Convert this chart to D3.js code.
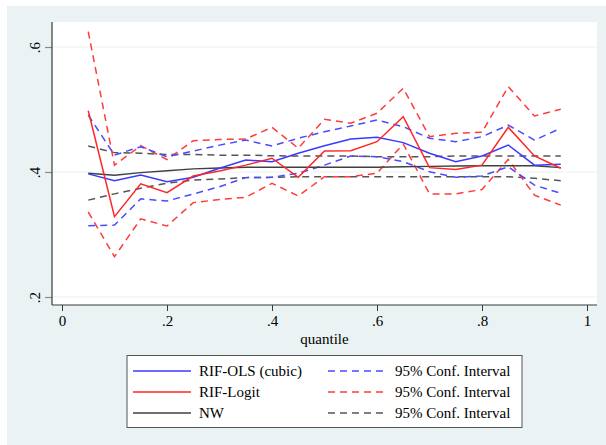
<!DOCTYPE html>
<html><head><meta charset="utf-8">
<script src="https://cdn.jsdelivr.net/npm/d3@7"></script>
<style>
html,body{margin:0;padding:0;background:#fff;}
text{font-family:"Liberation Serif","Times New Roman",serif;}
</style></head>
<body>
<svg id="chart" width="606" height="445"></svg>
<script>
const quantiles = [0.05,0.10,0.15,0.20,0.25,0.30,0.35,0.40,0.45,0.50,0.55,0.60,0.65,0.70,0.75,0.80,0.85,0.90,0.95];
const olsMid   = [0.397,0.386,0.395,0.3845,0.3915,0.406,0.419,0.4165,0.430,0.442,0.4528,0.4555,0.447,0.430,0.4165,0.4256,0.4432,0.411,0.4123];
const olsHi    = [0.491,0.427,0.4405,0.4245,0.4336,0.443,0.451,0.4416,0.454,0.4645,0.4736,0.4832,0.4725,0.454,0.4485,0.4565,0.475,0.451,0.470];
const olsLo    = [0.314,0.315,0.357,0.3536,0.3648,0.3765,0.391,0.3915,0.398,0.411,0.4256,0.4245,0.4165,0.4005,0.3915,0.3936,0.4085,0.379,0.366];
const logitMid = [0.498,0.3285,0.381,0.367,0.3936,0.4016,0.411,0.422,0.3915,0.4336,0.434,0.4485,0.4885,0.407,0.404,0.411,0.4715,0.4256,0.406];
const logitHi  = [0.6245,0.411,0.442,0.420,0.450,0.452,0.4528,0.4715,0.438,0.4843,0.478,0.494,0.534,0.4565,0.462,0.4635,0.5365,0.4896,0.5003];
const logitLo  = [0.336,0.2645,0.325,0.3136,0.351,0.356,0.3595,0.382,0.3616,0.3925,0.3925,0.398,0.4448,0.365,0.365,0.372,0.420,0.363,0.347];
const nwMid    = [0.398,0.395,0.399,0.402,0.405,0.4064,0.4075,0.4075,0.4075,0.4075,0.4075,0.4075,0.4085,0.409,0.4096,0.410,0.410,0.410,0.407];
const nwHi     = [0.4416,0.431,0.430,0.428,0.428,0.427,0.427,0.426,0.4256,0.4256,0.4256,0.4245,0.4245,0.4245,0.4256,0.4256,0.4256,0.4256,0.4256];
const nwLo     = [0.355,0.365,0.374,0.382,0.387,0.3888,0.391,0.3915,0.3925,0.3925,0.3925,0.3925,0.3925,0.3925,0.3925,0.3925,0.3925,0.390,0.386];
const xTicks = [0,0.2,0.4,0.6,0.8,1];
const xTickLabels = ["0",".2",".4",".6",".8","1"];
const yTicks = [0.2,0.4,0.6];
const yTickLabels = [".2",".4",".6"];
const xTitle = "quantile";
const legendLabels = ["RIF-OLS (cubic)","95% Conf. Interval","RIF-Logit","95% Conf. Interval","NW","95% Conf. Interval"];

const BLUE="#3a3aff", RED="#ff2626", BLACK="#404040";
const BLUE_D="#4a4aff", RED_D="#ff3c3c", BLACK_D="#555555";

const svg = d3.select("#chart");
svg.append("rect").attr("x",7).attr("y",6).attr("width",599).attr("height",439).attr("fill","#eaf2f3");
const plotL=52, plotR=597, plotT=22, plotB=305;
svg.append("rect").attr("x",plotL).attr("y",plotT).attr("width",plotR-plotL).attr("height",plotB-plotT).attr("fill","#fff");

const x = d3.scaleLinear().domain([0,1]).range([62,587]);
const y = d3.scaleLinear().domain([0.2,0.6]).range([297,47]);

svg.append("g").selectAll("line").data(yTicks).join("line")
  .attr("x1",plotL).attr("x2",plotR).attr("y1",d=>y(d)).attr("y2",d=>y(d))
  .attr("stroke","#eaf2f3").attr("stroke-width",1.2);

const yAxis = d3.axisLeft(y).tickValues(yTicks).tickSize(7).tickFormat((d,i)=>yTickLabels[i]);
const gy = svg.append("g").attr("transform",`translate(${plotL},0)`).call(yAxis);
gy.select(".domain").remove();
gy.selectAll(".tick line").attr("stroke","#8a8a8a").attr("stroke-width",1.2);
gy.selectAll(".tick text").attr("x",null).attr("dy",null)
  .attr("text-anchor","middle").attr("font-size",15).attr("fill","#000")
  .attr("transform","translate(-12,0) rotate(-90)");
svg.append("line").attr("x1",plotL).attr("x2",plotL).attr("y1",plotT).attr("y2",plotB).attr("stroke","#3a3a3a").attr("stroke-width",1.2);

const xAxis = d3.axisBottom(x).tickValues(xTicks).tickSize(6).tickFormat((d,i)=>xTickLabels[i]);
const gx = svg.append("g").attr("transform",`translate(0,${plotB})`).call(xAxis);
gx.select(".domain").remove();
gx.selectAll(".tick line").attr("stroke","#3a3a3a").attr("stroke-width",1);
gx.selectAll(".tick text").attr("y",10).attr("dy","0.71em").attr("font-size",15).attr("fill","#000");
svg.append("line").attr("x1",plotL).attr("x2",plotR).attr("y1",plotB).attr("y2",plotB).attr("stroke","#3a3a3a").attr("stroke-width",1.2);

svg.append("text").attr("x",(plotL+plotR)/2).attr("y",344).attr("text-anchor","middle")
  .attr("font-size",15).text(xTitle);

const line = d3.line().x((d,i)=>x(quantiles[i])).y(d=>y(d));
const series = [
  {v:nwHi,c:BLACK_D,dash:"7,5"},{v:nwLo,c:BLACK_D,dash:"7,5"},
  {v:logitHi,c:RED_D,dash:"7,5"},{v:logitLo,c:RED_D,dash:"7,5"},
  {v:olsHi,c:BLUE_D,dash:"7,5"},{v:olsLo,c:BLUE_D,dash:"7,5"},
  {v:nwMid,c:BLACK,dash:null},
  {v:olsMid,c:BLUE,dash:null},
  {v:logitMid,c:RED,dash:null}
];
svg.append("g").selectAll("path").data(series).join("path")
  .attr("d",d=>line(d.v)).attr("fill","none").attr("stroke",d=>d.c)
  .attr("stroke-width",1.5).attr("stroke-dasharray",d=>d.dash);

svg.append("rect").attr("x",127).attr("y",355.5).attr("width",395).attr("height",72)
  .attr("fill","#fff").attr("stroke","#555").attr("stroke-width",1);
const rows=[371,392,413];
const legItems=[
  {c:BLUE,dash:null,col:0,row:0},{c:BLUE_D,dash:"7,5",col:1,row:0},
  {c:RED,dash:null,col:0,row:1},{c:RED_D,dash:"7,5",col:1,row:1},
  {c:BLACK,dash:null,col:0,row:2},{c:BLACK_D,dash:"7,5",col:1,row:2}
];
const colX=[[133,191,199],[328,386,395]];
const lg = svg.append("g");
lg.selectAll("line").data(legItems).join("line")
  .attr("x1",d=>colX[d.col][0]).attr("x2",d=>colX[d.col][1])
  .attr("y1",d=>rows[d.row]).attr("y2",d=>rows[d.row])
  .attr("stroke",d=>d.c).attr("stroke-width",1.5).attr("stroke-dasharray",d=>d.dash);
lg.selectAll("text").data(legItems).join("text")
  .attr("x",d=>colX[d.col][2]).attr("y",d=>rows[d.row]).attr("dy","0.35em")
  .attr("font-size",15).text((d,i)=>legendLabels[i]);
</script>
</body></html>
